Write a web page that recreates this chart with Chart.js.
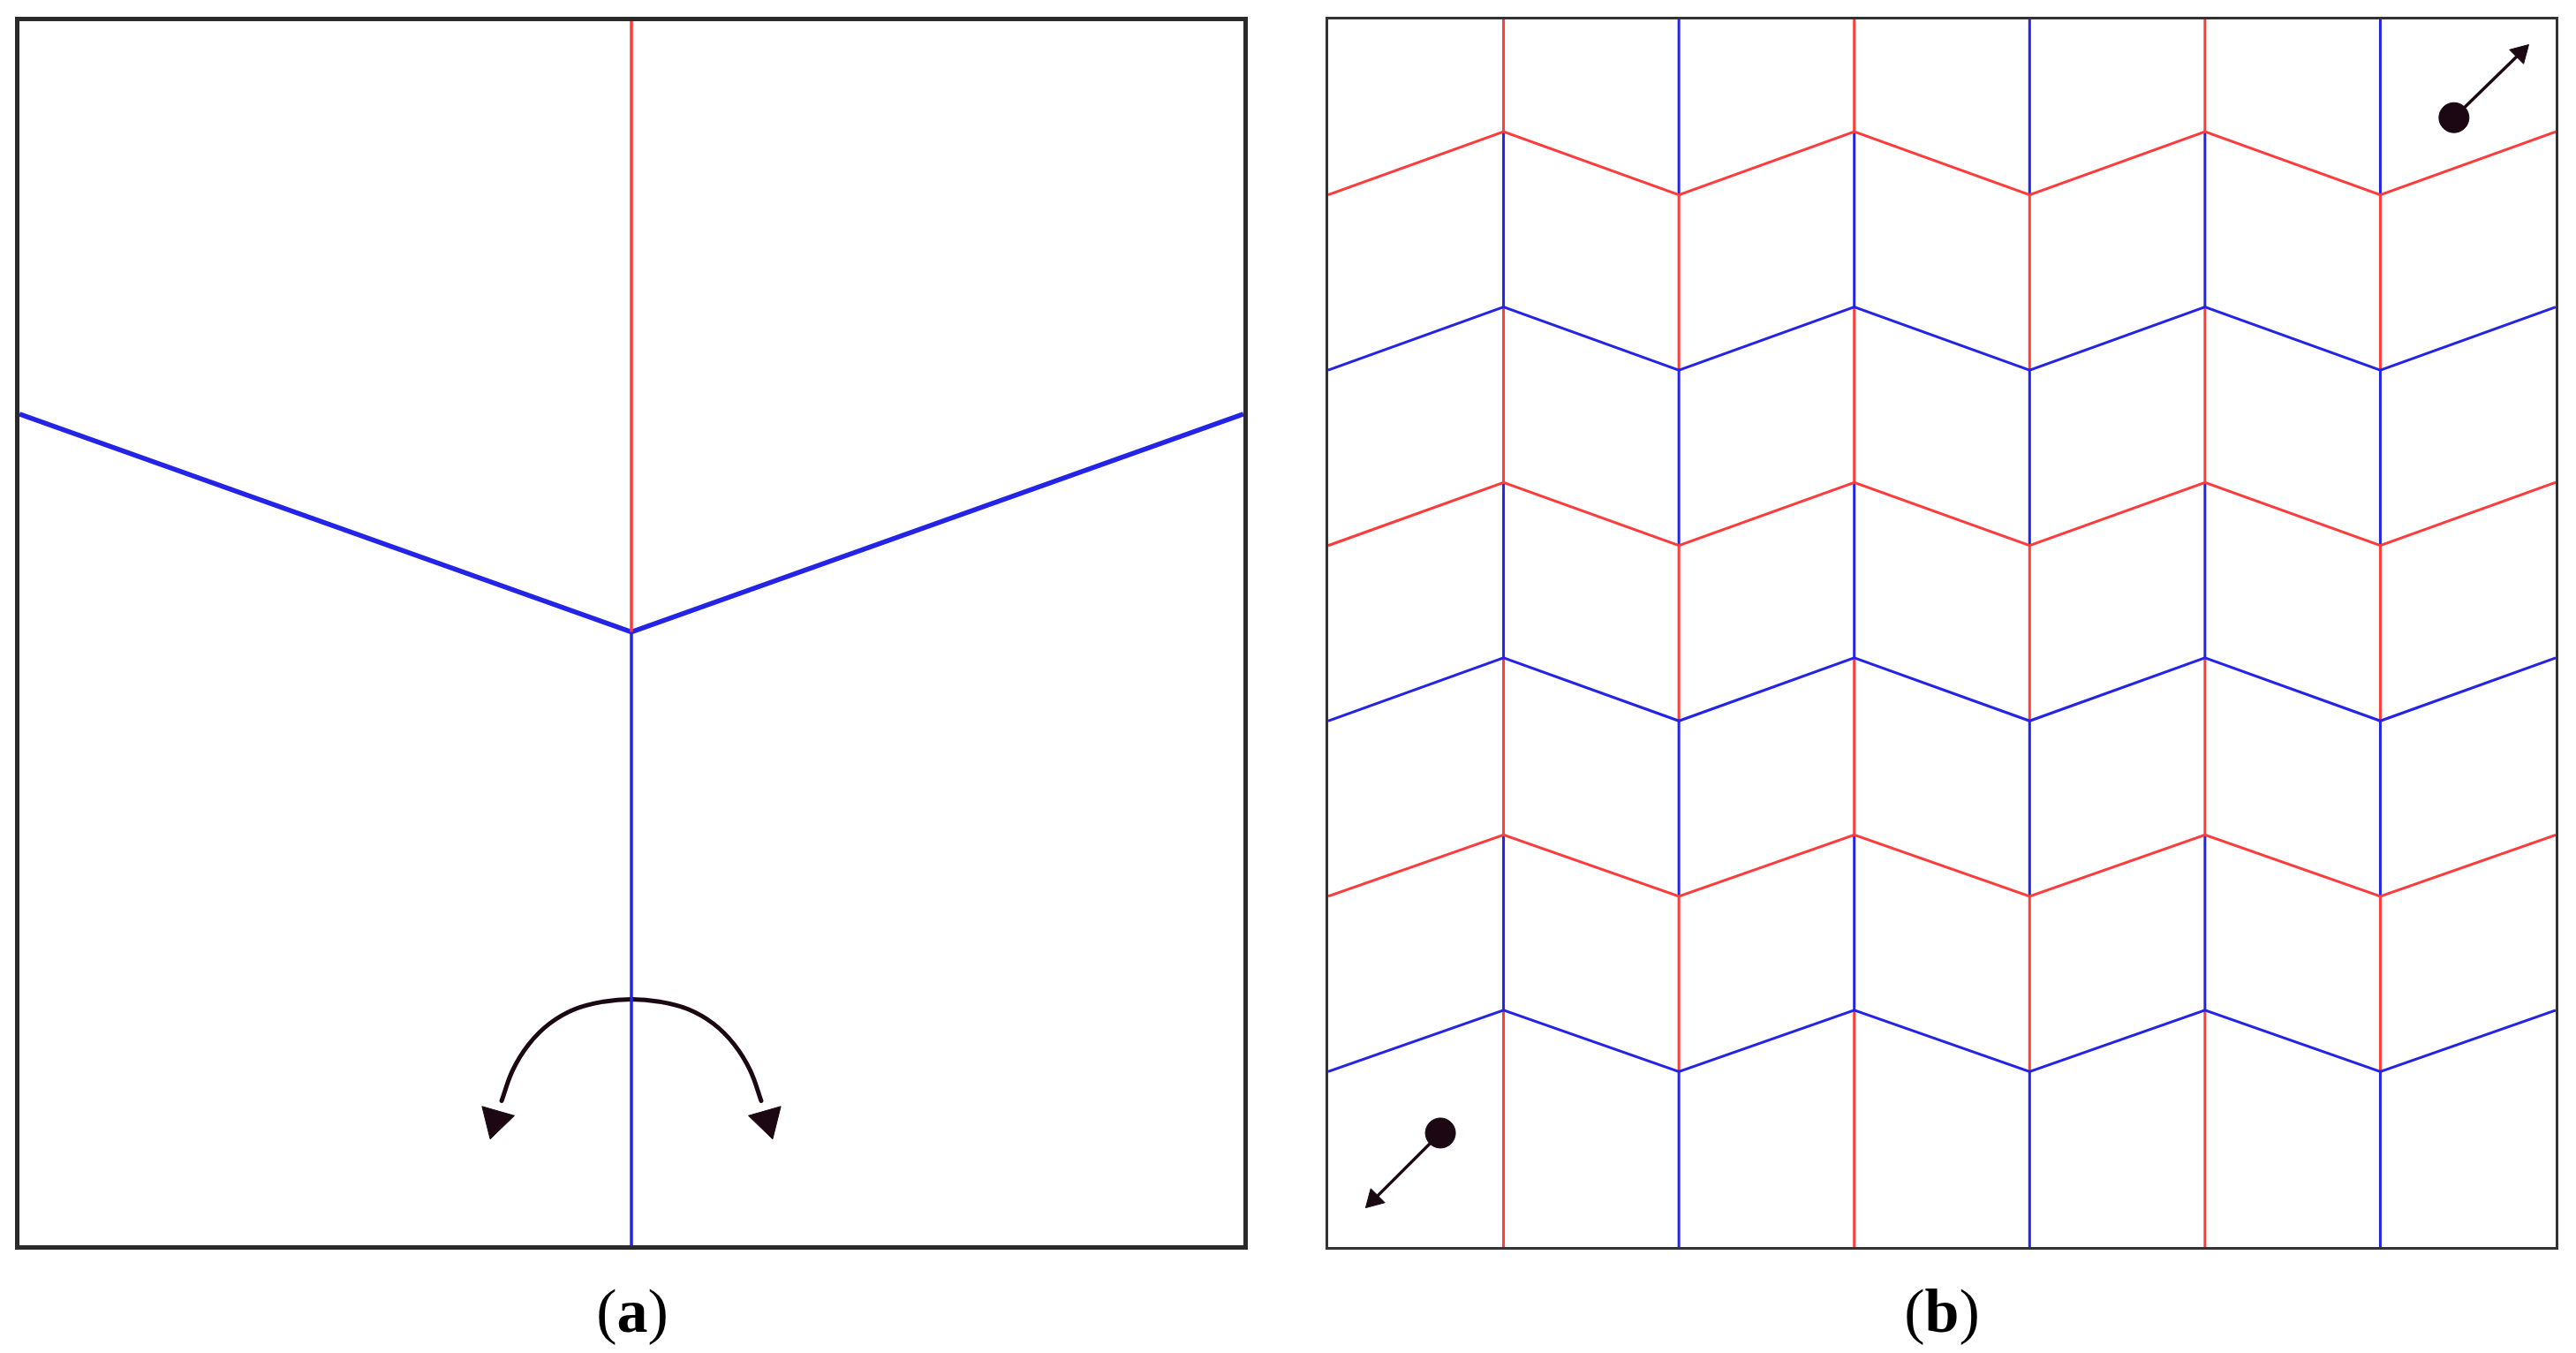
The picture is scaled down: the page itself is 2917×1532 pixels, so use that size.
<!DOCTYPE html>
<html>
<head>
<meta charset="utf-8">
<script src="https://cdn.jsdelivr.net/npm/chart.js@4/dist/chart.umd.min.js"></script>
<style>
body{margin:0;background:#fff;width:2917px;height:1532px;position:relative;overflow:hidden}
.box{position:absolute;top:19px;width:1396px;height:1396px;box-sizing:border-box}
#boxA{left:17px;border:5px solid #2a2a2a}
#boxB{left:1501px;border:3px solid #333}
.box canvas{position:absolute;left:0;top:0}
.lab{position:absolute;top:1445px;font-family:"Liberation Serif",serif;font-size:70px;color:#000;transform:translateX(-50%)}
.lab b{font-weight:bold}
</style>
</head>
<body>
<div class="box" id="boxA"><canvas id="chartA"></canvas></div>
<div class="box" id="boxB"><canvas id="chartB"></canvas></div>
<div class="lab" style="left:716px">(<b>a</b>)</div>
<div class="lab" style="left:2199px">(<b>b</b>)</div>
<script>
var RED = '#ff3b3b', BLUE = '#2424e6', INK = '#1c0812';

// panel (a): 0..100 both ways
var aKink = [50, 50.1];
var aLeftEnd = [0, 67.9];
var aRightEnd = [100, 67.9];
var aTop = [50, 100];
var aBottom = [50, 0];
var arcX = [39.4, 40.3, 41.6, 43.3, 45.4, 47.7, 50, 52.3, 54.6, 56.7, 58.4, 59.7, 60.6];
var arcY = [11.8, 14.3, 16.4, 18.1, 19.3, 19.9, 20.1, 19.9, 19.3, 18.1, 16.4, 14.3, 11.8];
var headX = [38.9, 61.1];
var headY = [10.2, 10.2];

// panel (b): columns 0..7, rows 0..7
var colX = [0, 1, 2, 3, 4, 5, 6, 7];
var valleyY = [6, 5, 4, 3, 2, 1];
var peakY = [6.36, 5.36, 4.36, 3.36, 2.35, 1.35];
var rowColor = ['red', 'blue', 'red', 'blue', 'red', 'blue'];
var dotTR = [6.42, 6.44], tipTR = [6.8, 6.81];
var dotBL = [0.64, 0.65], tipBL = [0.26, 0.27];

function seg(pts, color, w) {
  return {data: pts.map(function(p){return {x:p[0], y:p[1]};}), showLine:true, borderColor:color,
    borderWidth:w, pointRadius:0, fill:false, tension:0, clip:false};
}

function opts(max) {
  return {responsive:false, animation:false, events:[],
    layout:{padding:0, autoPadding:false},
    plugins:{legend:{display:false}, tooltip:{enabled:false}},
    scales:{x:{type:'linear', min:0, max:max, display:false},
            y:{type:'linear', min:0, max:max, display:false}}};
}

var cA = document.getElementById('chartA');
cA.width = 1386; cA.height = 1386;
var arc = seg(arcX.map(function(x,i){return [x, arcY[i]];}), INK, 5);
arc.tension = 0.4;
arc.borderCapStyle = 'round';
var dsA = [
  seg([aTop, aKink], RED, 3.5),
  seg([aLeftEnd, aKink, aRightEnd], BLUE, 5.5),
  seg([aKink, aBottom], BLUE, 3.5),
  arc,
  {data:[{x:headX[0], y:headY[0]}, {x:headX[1], y:headY[1]}], showLine:false,
   pointStyle:'triangle', pointRadius:22, pointRotation:[196, 164],
   backgroundColor:INK, borderColor:INK, borderWidth:1, clip:false}
];
new Chart(cA, {type:'scatter', data:{datasets:dsA}, options:opts(100)});

var cB = document.getElementById('chartB');
cB.width = 1390; cB.height = 1390;
var dsB = [];
// zigzag rows
for (var r = 0; r < valleyY.length; r++) {
  var pts = colX.map(function(x){ return [x, x % 2 === 0 ? valleyY[r] : peakY[r]]; });
  dsB.push(seg(pts, rowColor[r] === 'red' ? RED : BLUE, 3));
}
// vertical creases, colour flips at each row crossing
for (var c = 1; c <= 6; c++) {
  var ys = [7].concat(c % 2 === 1 ? peakY : valleyY).concat([0]);
  for (var k = 0; k < ys.length - 1; k++) {
    var first = c % 2 === 1 ? RED : BLUE, other = c % 2 === 1 ? BLUE : RED;
    dsB.push(seg([[c, ys[k]], [c, ys[k+1]]], k % 2 === 0 ? first : other, 3));
  }
}
[[dotTR, tipTR, 45], [dotBL, tipBL, 225]].forEach(function(a){
  dsB.push(seg([a[0], a[1]], INK, 3.5));
  dsB.push({data:[{x:a[0][0], y:a[0][1]}], showLine:false, pointStyle:'circle', pointRadius:17,
    backgroundColor:INK, borderColor:INK, clip:false});
  dsB.push({data:[{x:a[1][0], y:a[1][1]}], showLine:false, pointStyle:'triangle', pointRadius:13,
    pointRotation:a[2], backgroundColor:INK, borderColor:INK, clip:false});
});
new Chart(cB, {type:'scatter', data:{datasets:dsB}, options:opts(7)});
</script>
</body>
</html>
